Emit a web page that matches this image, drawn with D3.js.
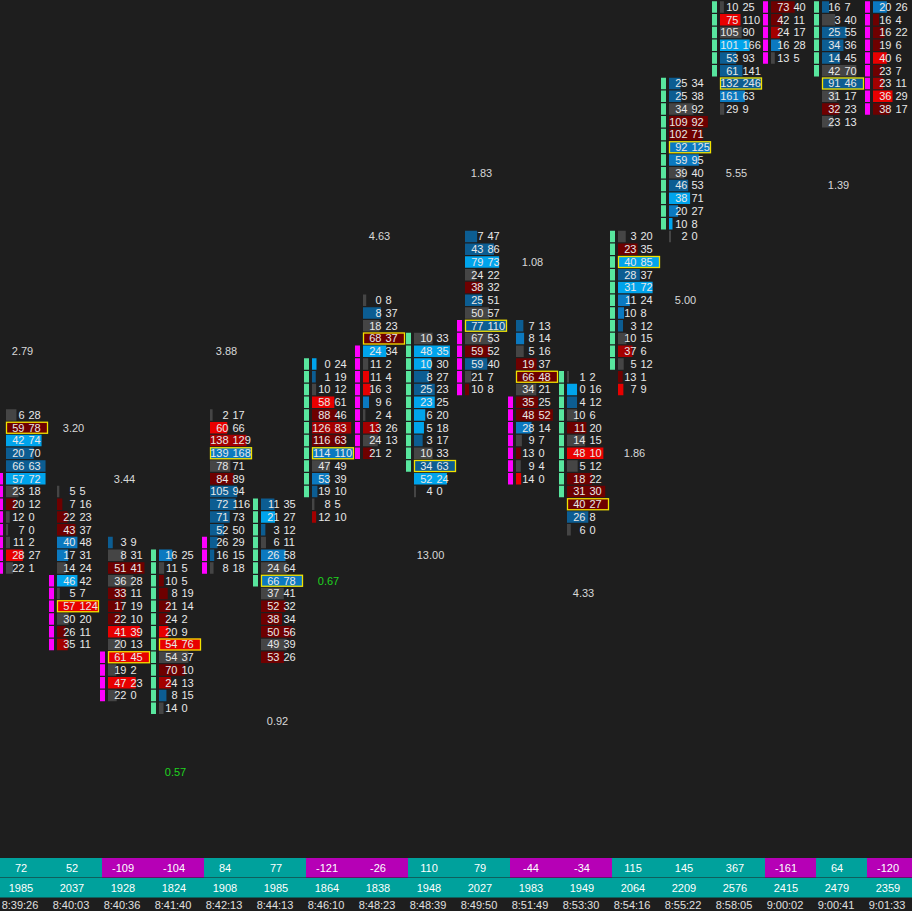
<!DOCTYPE html>
<html>
<head>
<meta charset="utf-8">
<script src="https://cdn.jsdelivr.net/npm/d3@7"></script>
<style>
html, body { margin: 0; padding: 0; background: #1e1e1e; overflow: hidden; }
svg { display: block; font-family: "Liberation Sans", Arial, sans-serif; font-size: 11px; }
</style>
</head>
<body>
<svg class="chart"></svg>
<script>
const WIDTH = 912, HEIGHT = 911;

// bottom table
const TIMES = ["8:39:26", "8:40:03", "8:40:36", "8:41:40", "8:42:13", "8:44:13", "8:46:10", "8:48:23", "8:48:39",
    "8:49:50", "8:51:49", "8:53:30", "8:54:16", "8:55:22", "8:58:05", "9:00:02", "9:00:41", "9:01:33"];
const DELTAS = [72, 52, -109, -104, 84, 77, -121, -26, 110, 79, -44, -34, 115, 145, 367, -161, 64, -120];
const VOLUMES = [1985, 2037, 1928, 1824, 1908, 1985, 1864, 1838, 1948, 2027, 1983, 1949, 2064, 2209, 2576, 2415, 2479, 2359];

// price levels in ticks
const HIGHS  = [88, 82, 78, 77, 88, 81, 92, 97, 94, 102, 95, 91, 102, 114, 120, 120, 120, 120];
const OPENS  = [83, 75, 69, 65, 78, 75, 82, 93, 84, 95, 89, 82, 92, 103, 115, 120, 115, 120];
const CLOSES = [76, 70, 66, 77, 76, 81, 92, 85, 94, 90, 83, 91, 102, 114, 120, 116, 120, 112];

// footprint rows, from the high down
const BIDS = [
    [6, 59, 42, 20, 66, 57, 23, 20, 12, 7, 11, 28, 22],
    [5, 7, 22, 43, 40, 17, 14, 46, 5, 57, 30, 26, 35],
    [3, 8, 51, 36, 33, 17, 22, 41, 20, 61, 19, 47, 22],
    [16, 11, 10, 8, 21, 24, 20, 54, 54, 70, 24, 8, 14],
    [2, 60, 138, 139, 78, 84, 105, 72, 71, 52, 26, 16, 8],
    [11, 21, 3, 6, 26, 24, 66, 37, 52, 38, 50, 49, 53],
    [0, 1, 10, 58, 88, 126, 116, 114, 47, 53, 19, 8, 12],
    [0, 8, 18, 68, 24, 11, 11, 16, 9, 2, 13, 24, 21],
    [10, 48, 10, 8, 25, 23, 6, 5, 3, 10, 34, 52, 4],
    [7, 43, 79, 24, 38, 25, 50, 77, 67, 59, 59, 21, 10],
    [7, 8, 5, 19, 66, 34, 35, 48, 28, 9, 13, 9, 14],
    [1, 0, 4, 10, 11, 14, 48, 5, 18, 31, 40, 26, 6],
    [3, 23, 40, 28, 31, 11, 10, 3, 10, 37, 5, 13, 7],
    [25, 25, 34, 109, 102, 92, 59, 39, 46, 38, 20, 10, 2],
    [10, 75, 105, 101, 53, 61, 132, 161, 29],
    [73, 42, 24, 16, 13],
    [16, 3, 25, 34, 14, 42, 91, 31, 32, 23],
    [20, 16, 16, 19, 40, 23, 23, 36, 38]
];
const ASKS = [
    [28, 78, 74, 70, 63, 72, 18, 12, 0, 0, 2, 27, 1],
    [5, 16, 23, 37, 48, 31, 24, 42, 7, 124, 20, 11, 11],
    [9, 31, 41, 28, 11, 19, 10, 39, 13, 45, 2, 23, 0],
    [25, 5, 5, 19, 14, 2, 9, 76, 37, 10, 13, 15, 0],
    [17, 66, 129, 168, 71, 89, 94, 116, 73, 50, 29, 15, 18],
    [35, 27, 12, 11, 58, 64, 78, 41, 32, 34, 56, 39, 26],
    [24, 19, 12, 61, 46, 83, 63, 110, 49, 39, 10, 5, 10],
    [8, 37, 23, 37, 34, 2, 4, 3, 6, 4, 26, 13, 2],
    [33, 35, 30, 27, 23, 25, 20, 18, 17, 33, 63, 24, 0],
    [47, 86, 73, 22, 32, 51, 57, 110, 53, 52, 40, 7, 8],
    [13, 14, 16, 37, 48, 21, 25, 52, 14, 7, 0, 4, 0],
    [2, 16, 12, 6, 20, 15, 10, 12, 22, 30, 27, 8, 0],
    [20, 35, 85, 37, 72, 24, 8, 12, 15, 6, 12, 1, 9],
    [34, 38, 92, 92, 71, 125, 95, 40, 53, 71, 27, 8, 0],
    [25, 110, 90, 166, 93, 141, 246, 63, 9],
    [40, 11, 17, 28, 5],
    [7, 40, 55, 36, 45, 70, 46, 17, 23, 13],
    [26, 4, 22, 6, 6, 7, 11, 29, 17]
];
// imbalance shade: -3 strong sell .. 0 neutral .. 3 strong buy
const SHADES = [
    [0, -1, 3, 1, 1, 3, 0, -1, 0, 0, 0, -3, 0],
    [0, -1, -1, -1, 2, 2, 0, 3, 0, -3, 0, -1, -2],
    [1, 0, -1, 0, -1, -1, -1, -3, 0, -3, 0, -3, 0],
    [2, 0, -1, -1, -1, -1, -3, -3, 0, -1, -2, 1, 0],
    [0, -3, -2, 2, 0, -1, 1, 1, 1, 1, 1, 1, 0],
    [1, 3, 1, 0, 2, 0, 2, 0, -1, -1, -1, 0, -1],
    [3, 1, 0, -3, -1, -2, -1, 2, 0, 2, 1, 0, -2],
    [0, 1, 0, -1, 3, 0, -3, -3, 2, 0, -2, 0, -1],
    [0, 3, 3, 1, 1, 3, 3, 3, 1, 0, 1, 3, 0],
    [1, 1, 3, 0, -1, 1, 0, 1, 0, -1, 1, 0, -1],
    [1, 2, 0, -1, -1, 0, -1, -1, 2, 0, -1, 0, -3],
    [0, 3, 1, 0, -1, 0, -3, 0, -1, -1, -1, 1, 0],
    [0, -1, 3, 1, 3, 2, 2, 1, 0, -2, 0, -1, -3],
    [1, 1, 0, -1, -1, 2, 2, 0, 1, 3, 2, 3, 0],
    [0, -3, 0, 3, 1, 1, 1, 2, 0],
    [-1, -1, -2, 2, 0],
    [1, 0, 1, 1, 1, 0, 1, 0, -1, 0],
    [2, -1, -1, -1, -3, -1, -2, -3, -1]
];
// bars whose point of control is above the visible area
const OFFSCREEN_POC = {15: 200, 17: 140};

const RATIOS = [2.79, 3.20, 3.44, 0.57, 3.88, 0.92, 0.67, 4.63, 13.00, 1.83, 1.08, 4.33, 1.86, 5.00, 5.55, null, 1.39, null];
const RATIO_SIDE = ["a", "a", "a", "b", "a", "b", "b", "a", "b", "a", "a", "b", "b", "b", "b", null, "b", null];

// scales & stuff
const SHADE_COLOR = d3.scaleOrdinal()
    .domain([-3, -2, -1, 0, 1, 2, 3])
    .range(["#e80000", "#a40000", "#6e0000", "#454545", "#0c5d92", "#0b79c0", "#00a4ec"]);

const X_fxn = d3.scaleBand().domain(d3.range(TIMES.length)).range([-1, -1 + 51 * TIMES.length]);
const ROW_H = 12.75;
const Y_fxn = d3.scaleLinear().domain([120, 65]).range([7, 7 + 55 * ROW_H]);
const BOX_W = 42;

const CHART = d3.select(".chart").attr("width", WIDTH).attr("height", HEIGHT);
CHART.append("rect").attr("width", WIDTH).attr("height", HEIGHT).attr("fill", "#1e1e1e");

const plot = CHART.append("g");

TIMES.forEach((t, i) => {
    const L = X_fxn(i);
    const rows = BIDS[i].map((b, k) => ({
        price: HIGHS[i] - k, bid: b, ask: ASKS[i][k], shade: SHADES[i][k], total: b + ASKS[i][k]
    }));
    const maxTotal = d3.max(rows, d => d.total);
    const pocTotal = OFFSCREEN_POC[i] || maxTotal;
    const widthScale = d3.scaleLinear().domain([0, pocTotal]).range([0, BOX_W]);
    const bodyTop = Math.max(OPENS[i], CLOSES[i]), bodyBot = Math.min(OPENS[i], CLOSES[i]);
    const upBar = CLOSES[i] > OPENS[i];

    const g = plot.append("g").attr("class", "bar-" + i);

    // candle body along the left edge
    g.selectAll(".body").data(rows.filter(d => d.price <= bodyTop && d.price >= bodyBot))
        .join("rect")
        .attr("x", L - 1).attr("width", 5)
        .attr("y", d => Y_fxn(d.price) - 5.75).attr("height", 11.5)
        .attr("fill", upBar ? "#58e69e" : "#ff00ff");

    g.selectAll(".vol").data(rows).join("rect")
        .attr("x", L + 7)
        .attr("y", d => Y_fxn(d.price) - 5.75)
        .attr("width", d => Math.max(2, widthScale(d.total)))
        .attr("height", 11.5)
        .attr("fill", d => SHADE_COLOR(d.shade));

    if (!OFFSCREEN_POC[i]) {
        const poc = rows.find(d => d.total === maxTotal);
        g.append("rect")
            .attr("x", L + 7.5).attr("y", Y_fxn(poc.price) - 5.5)
            .attr("width", BOX_W - 1).attr("height", 11)
            .attr("fill", "none").attr("stroke", "#f2e200").attr("stroke-width", 1.3);
    }

    g.selectAll(".bid").data(rows).join("text")
        .attr("x", L + 25.5).attr("y", d => Y_fxn(d.price))
        .attr("dy", "0.36em").attr("text-anchor", "end")
        .attr("fill", "#e8e8e8").text(d => d.bid);
    g.selectAll(".ask").data(rows).join("text")
        .attr("x", L + 29.5).attr("y", d => Y_fxn(d.price))
        .attr("dy", "0.36em").attr("text-anchor", "start")
        .attr("fill", "#e8e8e8").text(d => d.ask);

    if (RATIOS[i] !== null) {
        const low = HIGHS[i] - rows.length + 1;
        const lvl = RATIO_SIDE[i] === "a" ? HIGHS[i] + 5 : low - 5;
        g.append("text")
            .attr("x", L + 23.5).attr("y", Y_fxn(lvl)).attr("dy", "0.36em")
            .attr("text-anchor", "middle")
            .attr("fill", RATIOS[i] < 0.7 ? "#1fd41f" : "#d8d8d8")
            .text(RATIOS[i].toFixed(2));
    }
});

// bottom table
const table = CHART.append("g");
const ROW1 = 858, ROW2 = 878, ROW3 = 898;
table.selectAll(".dcell").data(DELTAS).join("rect")
    .attr("x", (d, i) => X_fxn(i) + 1).attr("y", ROW1)
    .attr("width", 51).attr("height", 19.5)
    .attr("fill", d => d < 0 ? "#b600b6" : "#00a19c");
table.selectAll(".vcell").data(VOLUMES).join("rect")
    .attr("x", (d, i) => X_fxn(i) + 1).attr("y", ROW2)
    .attr("width", 51).attr("height", 19.5)
    .attr("fill", "#00a19c");
table.selectAll(".dtext").data(DELTAS).join("text")
    .attr("x", (d, i) => X_fxn(i) + 22).attr("y", ROW1 + 10).attr("dy", "0.36em")
    .attr("text-anchor", "middle").attr("fill", "#ffffff").text(d => d);
table.selectAll(".vtext").data(VOLUMES).join("text")
    .attr("x", (d, i) => X_fxn(i) + 22).attr("y", ROW2 + 10).attr("dy", "0.36em")
    .attr("text-anchor", "middle").attr("fill", "#ffffff").text(d => d);
table.selectAll(".ttext").data(TIMES).join("text")
    .attr("x", (d, i) => X_fxn(i) + 21).attr("y", ROW3 + 7).attr("dy", "0.36em")
    .attr("text-anchor", "middle").attr("fill", "#e0e0e0").text(d => d);
</script>
</body>
</html>
